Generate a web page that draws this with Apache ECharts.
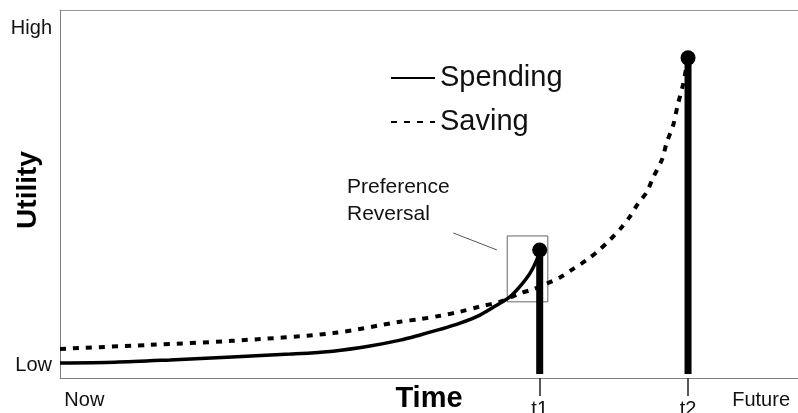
<!DOCTYPE html>
<html>
<head>
<meta charset="utf-8">
<script src="https://cdn.jsdelivr.net/npm/echarts@6/dist/echarts.min.js"></script>
<style>
html,body{margin:0;padding:0;background:#fff;}
#chart{width:798px;height:413px;}
</style>
</head>
<body>
<div id="chart"></div>
<script>
// time axis runs 0 (Now) .. 100 (Future), utility 0 (Low) .. 100 (High)
var spendingX = [0, 7.45, 14.9, 23.3, 31.2, 37.0, 42.0, 46.1, 48.8, 51.5, 54.2, 56.9, 59.6, 61.0, 62.3, 63.7, 64.6, 65.0];
var spendingY = [4.1, 4.3, 4.9, 5.7, 6.5, 7.3, 8.7, 10.3, 11.7, 13.2, 14.9, 17.1, 20.3, 22.1, 24.8, 28.5, 32.1, 34.8];
var savingX = [0, 12.2, 23.3, 37.0, 46.1, 48.8, 51.5, 54.2, 56.9, 59.6, 62.3, 64.1, 66.0, 67.8, 69.5, 71.4, 72.9, 74.5, 75.9, 77.2, 78.3, 79.5, 80.4, 81.6, 82.2, 83.1, 83.7, 84.4, 85.1];
var savingY = [7.9, 9.0, 10.1, 12.2, 15.3, 16.0, 16.9, 18.0, 19.4, 20.7, 23.0, 24.1, 25.7, 27.4, 29.6, 32.1, 34.5, 37.5, 40.5, 43.8, 47.3, 50.5, 54.6, 59.5, 63.9, 68.8, 74.2, 79.6, 87.0];
// the two reward moments (t1 = smaller-sooner, t2 = larger-later)
var rewardX = [65.0, 85.1];
var rewardY = [34.8, 87.0];
var rewardBase = 1.1;
var xTickLabels = ['Now', 't1', 't2', 'Future'];
var xTickPos = [3.3, 65.0, 85.1, 95.0];
var yTickLabels = ['Low', 'High'];
var yTickPos = [3.5, 94.9];

var FONT = 'Liberation Sans, Arial, sans-serif';

function pairs(xs, ys){
    var out = [];
    for(var i=0;i<xs.length;i++){
        out.push([xs[i], ys[i]]);
    }
    return out;
}

var series = [
    {
        name: 'Spending',
        type: 'line',
        data: pairs(spendingX, spendingY),
        smooth: 0.3,
        symbol: 'none',
        lineStyle: {color: '#000', width: 3.5},
        itemStyle: {color: '#000'},
        markArea: {
            silent: true,
            itemStyle: {color: 'rgba(0,0,0,0)', borderColor: '#666', borderWidth: 1},
            data: [[{coord: [60.6, 38.6]}, {coord: [66.1, 20.7]}]]
        },
        markLine: {
            silent: true,
            symbol: 'none',
            label: {show: false},
            lineStyle: {color: '#555', width: 1, type: 'solid'},
            data: [[{coord: [53.3, 39.4]}, {coord: [59.2, 34.8]}]]
        },
        z: 3
    },
    {
        name: 'Saving',
        type: 'line',
        data: pairs(savingX, savingY),
        smooth: 0.3,
        symbol: 'none',
        lineStyle: {color: '#000', width: 4, type: [6, 7]},
        itemStyle: {color: '#000'},
        z: 2
    }
];

// vertical reward bars
for(var i=0;i<rewardX.length;i++){
    series.push({
        name: 'reward' + (i+1),
        type: 'line',
        data: [[rewardX[i], rewardBase], [rewardX[i], rewardY[i]]],
        symbol: 'none',
        silent: true,
        lineStyle: {color: '#000', width: 7},
        z: 4
    });
}
series.push({
    name: 'peaks',
    type: 'scatter',
    data: pairs(rewardX, rewardY),
    symbolSize: 15,
    silent: true,
    itemStyle: {color: '#000', opacity: 1},
    z: 5
});

var chart = echarts.init(document.getElementById('chart'));
chart.setOption({
    animation: false,
    backgroundColor: '#fff',
    grid: {left: 60, right: 0, top: 10, bottom: 35, containLabel: false, outerBoundsMode: 'none'},
    legend: {
        data: ['Spending', 'Saving'],
        orient: 'vertical',
        left: 385,
        top: 58,
        itemWidth: 44,
        itemHeight: 14,
        itemGap: 14,
        itemStyle: {opacity: 0},
        textStyle: {fontFamily: FONT, fontSize: 29, color: '#111', lineHeight: 30}
    },
    xAxis: [
        {
            type: 'value',
            min: 0,
            max: 100,
            splitLine: {show: false},
            axisLine: {lineStyle: {color: '#808080', width: 1}},
            axisTick: {
                show: true,
                customValues: [rewardX[0], rewardX[1]],
                length: 18,
                lineStyle: {color: '#222', width: 1.5}
            },
            axisLabel: {
                customValues: xTickPos,
                margin: 12,
                formatter: function(v){
                    var idx = xTickPos.indexOf(v);
                    var txt = xTickLabels[idx];
                    return txt.charAt(0) === 't' ? '{t|' + txt + '}' : '{a|' + txt + '}';
                },
                rich: {
                    a: {fontFamily: FONT, fontSize: 20, color: '#111'},
                    t: {fontFamily: FONT, fontSize: 20, color: '#111', padding: [9, 0, 0, 0]}
                }
            },
            name: 'Time',
            nameLocation: 'middle',
            nameGap: 6,
            nameMoveOverlap: false,
            nameTextStyle: {fontFamily: FONT, fontSize: 29, fontWeight: 'bold', color: '#000'}
        },
        {
            type: 'value',
            position: 'top',
            min: 0,
            max: 100,
            splitLine: {show: false},
            axisLine: {show: true, lineStyle: {color: '#999', width: 1}},
            axisTick: {show: false},
            axisLabel: {show: false}
        }
    ],
    yAxis: {
        type: 'value',
        min: 0,
        max: 100,
        splitLine: {show: false},
        axisLine: {show: true, lineStyle: {color: '#808080', width: 1}},
        axisTick: {show: false},
        axisLabel: {
            customValues: yTickPos,
            margin: 8,
            fontFamily: FONT,
            fontSize: 20,
            color: '#111',
            formatter: function(v){
                return yTickLabels[yTickPos.indexOf(v)];
            }
        },
        name: 'Utility',
        nameLocation: 'middle',
        nameGap: 18,
        nameRotate: 90,
        nameMoveOverlap: false,
        nameTextStyle: {fontFamily: FONT, fontSize: 28, fontWeight: 'bold', color: '#000', padding: [0, 0, 0, 8]}
    },
    graphic: [
        {
            type: 'text',
            left: 347,
            top: 174,
            silent: true,
            style: {
                text: 'Preference\nReversal',
                fontFamily: FONT,
                fontSize: 21,
                lineHeight: 27,
                fill: '#111'
            }
        }
    ],
    series: series
});
</script>
</body>
</html>
